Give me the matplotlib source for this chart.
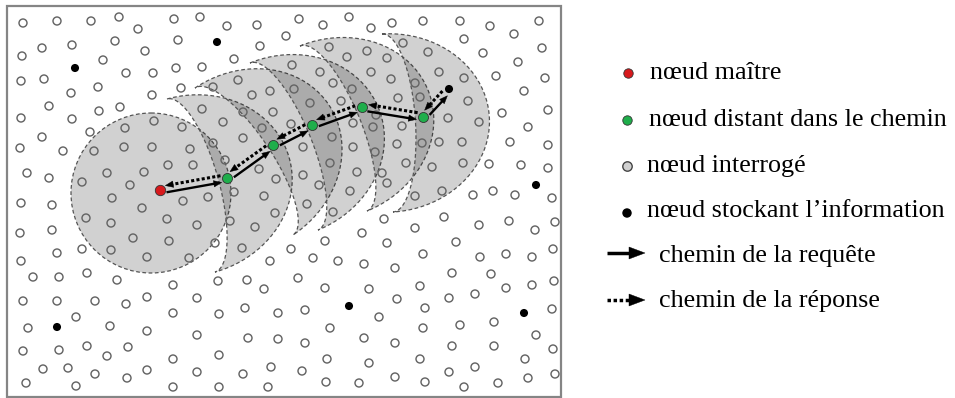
import numpy as np
import matplotlib
matplotlib.use("Agg")
import matplotlib.pyplot as plt
from matplotlib.patches import Polygon, Circle, Rectangle

# ---------------- data (pixel coordinates) ----------------
queried_nodes = [
    (23, 23), (57, 21), (91, 21), (119, 17), (138, 29), (174, 19), (200, 17), (227, 26), (257, 25), (299, 19),
    (42, 48), (72, 45), (115, 41), (145, 51), (22, 56), (103, 60), (126, 73), (153, 73),
    (21, 81), (44, 79), (71, 93), (98, 87), (152, 95), (49, 106), (99, 111), (120, 107), (21, 118), (72, 119),
    (42, 137), (90, 132), (20, 148), (63, 151), (27, 173), (49, 178),
    (125, 128), (154, 121), (124, 147), (152, 147), (94, 151), (107, 173), (144, 172), (82, 182), (130, 185), (112, 198),
    (178, 40), (260, 46), (286, 36), (176, 68), (202, 67), (234, 59), (181, 88), (238, 80), (213, 87), (252, 95),
    (270, 91), (292, 65), (294, 89), (202, 109), (223, 122), (243, 112), (273, 112), (262, 128), (291, 124),
    (182, 127), (213, 143), (243, 138), (190, 149), (168, 165), (193, 165), (225, 160), (259, 169), (276, 179),
    (234, 192), (208, 197), (264, 196), (183, 201), (167, 219), (197, 225), (230, 221), (275, 213), (255, 227),
    (169, 241), (215, 243), (242, 248), (291, 249), (189, 258), (270, 261), (303, 147),
    (21, 203), (52, 205), (20, 233), (52, 230), (21, 261), (57, 253), (33, 277), (59, 277), (87, 273), (117, 280),
    (23, 301), (57, 301), (95, 301), (126, 304), (147, 297), (28, 328), (76, 317), (110, 326), (147, 331),
    (23, 351), (59, 350), (87, 346), (107, 356), (128, 347), (43, 369), (68, 368), (95, 374), (127, 378),
    (147, 370), (26, 383), (76, 386), (86, 218), (111, 223), (142, 208), (133, 238), (111, 250), (147, 257),
    (82, 249), (173, 285), (218, 281), (247, 280), (264, 289), (298, 278), (197, 298), (173, 313), (219, 314),
    (245, 308), (278, 313), (305, 310), (197, 335), (248, 338), (278, 339), (305, 343), (173, 359), (219, 355),
    (197, 372), (243, 374), (271, 367), (302, 371), (173, 387), (219, 387), (268, 387), (326, 382), (327, 359),
    (325, 288), (307, 204), (313, 258), (325, 241),
    (349, 17), (323, 25), (371, 28), (392, 23), (423, 21), (460, 21), (490, 26), (514, 34), (539, 21), (464, 39),
    (483, 53), (542, 48), (518, 62), (496, 76), (545, 78), (524, 91), (548, 110), (502, 113), (528, 127),
    (510, 142), (548, 145), (489, 164), (521, 165), (548, 168), (493, 191), (515, 195), (552, 198), (473, 195),
    (403, 43), (428, 52), (367, 51), (329, 47), (347, 57), (387, 58), (320, 72), (371, 72), (391, 79), (333, 83),
    (352, 89), (439, 72), (464, 78), (415, 83), (398, 98), (420, 97), (341, 101), (310, 103), (468, 101),
    (376, 115), (448, 118), (479, 122), (353, 123), (402, 126), (332, 137), (373, 127), (439, 142), (462, 142),
    (353, 147), (422, 143), (397, 144), (375, 152), (330, 163), (432, 167), (463, 163), (406, 163), (357, 172),
    (382, 173), (303, 175), (319, 185), (350, 191), (387, 183), (442, 191), (415, 196),
    (333, 212), (384, 219), (415, 228), (444, 217), (479, 225), (509, 221), (535, 230), (555, 222), (362, 233),
    (387, 243), (456, 242), (338, 261), (364, 264), (395, 268), (423, 254), (480, 257), (506, 254), (532, 257),
    (553, 249), (452, 273), (491, 274), (369, 289), (420, 286), (475, 294), (506, 288), (532, 285), (554, 281),
    (449, 298), (397, 299), (425, 308), (379, 317), (552, 309), (330, 328), (423, 328), (460, 325), (494, 322),
    (536, 335), (364, 338), (395, 343), (452, 346), (494, 346), (553, 349), (369, 363), (420, 359), (449, 372),
    (475, 367), (525, 359), (359, 383), (395, 377), (425, 382), (464, 387), (498, 383), (528, 378), (555, 374),
]
storage_nodes = [(75, 68), (217, 42), (449, 89), (536, 185), (57, 327), (349, 306), (524, 313)]
master_node = (160, 190)
path_nodes = [(227, 178), (273, 145), (312, 125), (362, 107), (423, 117)]
target_node = (449, 89)

first_zone_center = (151, 193)
first_zone_radius = 80
moon_top_tips = [(167, 99), (195, 88), (250, 63), (300, 46), (382, 34)]
moon_bottom_tips = [(215, 272), (293, 235), (318, 230), (367, 211), (393, 212)]
moon_outer_bulge = 102
moon_inner_bulge = 28

legend_node_labels = ["nœud maître", "nœud distant dans le chemin", "nœud interrogé",
                      "nœud stockant l’information"]
legend_arrow_labels = ["chemin de la requête", "chemin de la réponse"]

# ---------------- figure ----------------
fig = plt.figure(figsize=(9.55, 3.98), dpi=100)
ax = fig.add_axes([0, 0, 1, 1])
ax.set_xlim(0, 955)
ax.set_ylim(398, 0)
ax.axis("off")

zone_face = (0, 0, 0, 0.18)
zone_edge = "#555555"
zone_ls = (0, (3, 2))

ax.add_patch(Circle(first_zone_center, first_zone_radius, facecolor=zone_face,
                    edgecolor=zone_edge, lw=0.9, linestyle=zone_ls, zorder=1))


def moon_polygon(top, bottom, a_out, a_in, n=160):
    T = np.array(top, float)
    B = np.array(bottom, float)
    M = (T + B) / 2
    u = B - T
    b = np.linalg.norm(u) / 2
    u = u / np.linalg.norm(u)
    nv = np.array([u[1], -u[0]])
    t = np.linspace(-np.pi / 2, np.pi / 2, n)
    outer = M + np.outer(a_out * np.cos(t), nv) + np.outer(b * np.sin(t), u)
    t2 = t[::-1]
    inner = M + np.outer(a_in * np.cos(t2), nv) + np.outer(b * np.sin(t2), u)
    return np.vstack([outer, inner])


for T, B in zip(moon_top_tips, moon_bottom_tips):
    pts = moon_polygon(T, B, moon_outer_bulge, moon_inner_bulge)
    ax.add_patch(Polygon(pts, closed=True, facecolor=zone_face, edgecolor=zone_edge,
                         lw=0.9, linestyle=zone_ls, zorder=1))

# frame
ax.add_patch(Rectangle((7, 6), 554, 391, fill=False, ec="#858585", lw=1.6, zorder=2))

# nodes
qx = [p[0] for p in queried_nodes]
qy = [p[1] for p in queried_nodes]
ax.scatter(qx, qy, s=33, facecolors="none", edgecolors="#666666", linewidths=1.05, zorder=3)
ax.scatter([p[0] for p in storage_nodes], [p[1] for p in storage_nodes], s=34,
           c="black", edgecolors="none", zorder=5)


def arrow(p0, p1, dotted, lw, head_len, head_half, zorder=4):
    p0 = np.array(p0, float)
    p1 = np.array(p1, float)
    d = (p1 - p0) / np.linalg.norm(p1 - p0)
    perp = np.array([-d[1], d[0]])
    base = p1 - head_len * d
    shaft_end = p1 - 0.7 * head_len * d
    ls = (0, (1, 0.75)) if dotted else "-"
    ax.plot([p0[0], shaft_end[0]], [p0[1], shaft_end[1]], color="black", lw=lw,
            linestyle=ls, solid_capstyle="butt", dash_capstyle="butt", zorder=zorder)
    head = np.array([p1, base + head_half * perp, base - head_half * perp])
    ax.add_patch(Polygon(head, closed=True, facecolor="black", edgecolor="black", lw=0.3,
                         zorder=zorder))


route = [master_node] + path_nodes + [target_node]
shrink = 6.0
off = 3.4
for P, Q in zip(route[:-1], route[1:]):
    P = np.array(P, float)
    Q = np.array(Q, float)
    d = (Q - P) / np.linalg.norm(Q - P)
    perp = np.array([-d[1], d[0]])
    arrow(P + off * perp + shrink * d, Q + off * perp - shrink * d, False, 1.7, 8.0, 3.2)
    arrow(Q - off * perp - shrink * d, P - off * perp + shrink * d, True, 2.2, 8.0, 3.2)

ax.scatter([master_node[0]], [master_node[1]], s=56, c="#d7191c", edgecolors="#333333",
           linewidths=0.6, zorder=6)
ax.scatter([p[0] for p in path_nodes], [p[1] for p in path_nodes], s=52, c="#1fae4b",
           edgecolors="#333333", linewidths=0.6, zorder=6)

# legend
serif = "Liberation Serif"
fs = 18.8
node_styles = [dict(c="#d7191c", edgecolors="#333333", linewidths=0.6),
               dict(c="#1fae4b", edgecolors="#333333", linewidths=0.6),
               dict(c="#d0d0d0", edgecolors="#444444", linewidths=1.0),
               dict(c="black", edgecolors="none")]
legend_marker_xy = [(628, 73), (627, 120), (627, 166), (627, 213)]
legend_text_xy = [(650, 79), (649, 126), (647, 172), (647, 217)]
for lab, st, mxy, txy in zip(legend_node_labels, node_styles, legend_marker_xy, legend_text_xy):
    ax.scatter([mxy[0]], [mxy[1]], s=46, zorder=6, **st)
    ax.text(txy[0], txy[1], lab, fontfamily=serif, fontsize=fs, va="baseline", ha="left")

arrow_legend_y = [253, 300]
arrow_text_y = [262, 307]
for lab, y, ty, dotted in zip(legend_arrow_labels, arrow_legend_y, arrow_text_y, [False, True]):
    arrow((607, y), (645, y), dotted, 2.5, 16, 6.0)
    ax.text(659, ty, lab, fontfamily=serif, fontsize=fs, va="baseline", ha="left")

fig.savefig("out.png", dpi=100)
